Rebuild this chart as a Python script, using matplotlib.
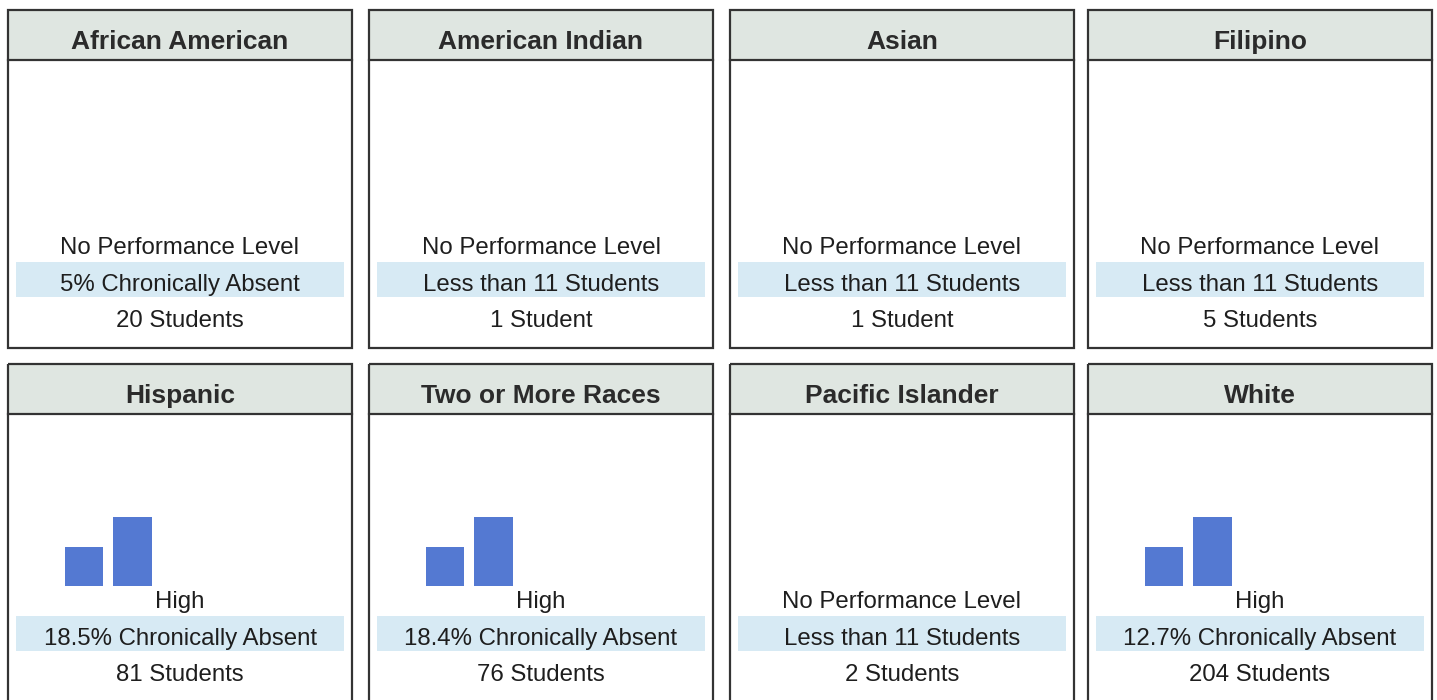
import matplotlib
matplotlib.use('Agg')
import matplotlib.pyplot as plt
from matplotlib.patches import Rectangle

# Data
groups = ['African American', 'American Indian', 'Asian', 'Filipino',
          'Hispanic', 'Two or More Races', 'Pacific Islander', 'White']
levels = ['No Performance Level', 'No Performance Level', 'No Performance Level',
          'No Performance Level', 'High', 'High', 'No Performance Level', 'High']
absent_text = ['5% Chronically Absent', 'Less than 11 Students', 'Less than 11 Students',
               'Less than 11 Students', '18.5% Chronically Absent',
               '18.4% Chronically Absent', 'Less than 11 Students',
               '12.7% Chronically Absent']
students = [20, 1, 1, 5, 81, 76, 2, 204]
# relative bar heights of the level graphic (only drawn for groups with a level)
level_bars = [None, None, None, None, [0.57, 1.0], [0.57, 1.0], None, [0.56, 1.0]]

W, H = 1437, 700
plt.rcParams['font.family'] = ['Liberation Sans', 'DejaVu Sans']

fig = plt.figure(figsize=(W / 100, H / 100), dpi=100)
canvas = fig.add_axes([0, 0, 1, 1])
canvas.set_xlim(0, W)
canvas.set_ylim(H, 0)
canvas.axis('off')

col_left = [8, 369, 730, 1088]
row_top = [10, 364]
pw, ph, hh = 344, 338, 50
edge = '#333333'

for i, name in enumerate(groups):
    L = col_left[i % 4]
    T = row_top[i // 4]
    # header and panel frame
    canvas.add_patch(Rectangle((L, T), pw, hh, facecolor='#dfe6e1', edgecolor='none', zorder=1))
    canvas.add_patch(Rectangle((L, T), pw, ph, facecolor='none', edgecolor=edge, lw=1.6, zorder=3))
    canvas.plot([L, L + pw], [T + hh, T + hh], color=edge, lw=1.6, zorder=3)
    canvas.text(L + pw / 2, T + 39, name, ha='center', va='baseline',
                fontsize=19, fontweight='bold', color='#2b2b2b', zorder=4)
    # highlighted row
    canvas.add_patch(Rectangle((L + 8, T + 252), pw - 16, 35, facecolor='#d7eaf4',
                               edgecolor='none', zorder=1))
    canvas.text(L + pw / 2, T + 244, levels[i], ha='center', va='baseline',
                fontsize=17.3, color='#1e1e1e', zorder=4)
    canvas.text(L + pw / 2, T + 281, absent_text[i], ha='center', va='baseline',
                fontsize=17.3, color='#1e1e1e', zorder=4)
    label = f'{students[i]} Student' + ('' if students[i] == 1 else 's')
    canvas.text(L + pw / 2, T + 317, label, ha='center', va='baseline',
                fontsize=17.3, color='#1e1e1e', zorder=4)

    if level_bars[i] is not None:
        base, top = T + 222, T + 153
        ax = fig.add_axes([(L + 51.75) / W, (H - base) / H, 97 / W, (base - top) / H])
        ax.bar(range(len(level_bars[i])), level_bars[i], width=0.8, color='#5479d2')
        ax.set_xlim(-0.5, len(level_bars[i]) - 0.5)
        ax.set_ylim(0, 1)
        ax.axis('off')

fig.savefig('out.png', dpi=100)
